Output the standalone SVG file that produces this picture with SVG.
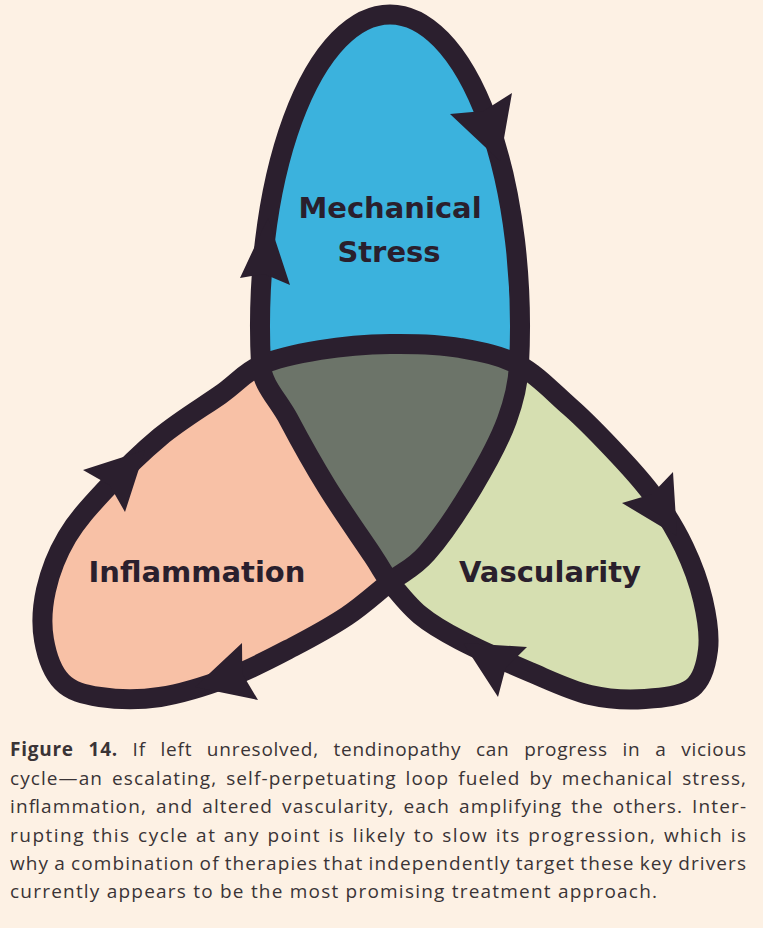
<svg xmlns="http://www.w3.org/2000/svg" width="763" height="928" viewBox="0 0 763 928">
  <style>
    .lbl { font-family: "DejaVu Sans", "Liberation Sans", sans-serif; font-weight: bold; font-size: 29px; fill: #2a1f2d; text-anchor: middle; }
    .loop { fill: none; stroke: #2b1f2e; stroke-width: 20; stroke-linejoin: round; }
    .head { fill: #2b1f2e; }
    .cap { font-family: "Open Sans", Lato, "Liberation Sans", sans-serif; font-size: 19px; fill: #3a3436; }
    .capb { font-weight: bold; }
  </style>
  <rect x="0" y="0" width="763" height="928" fill="#fdf1e4"/>

  <g id="mechanical-stress">
    <path fill="#3bb2dd" d="M261,365 A130 312 0 1 1 519,365 C500.7,355.2 481.2,351.8 460,348 C438.8,344.2 413.3,343.7 390,344 C366.7,344.3 341.2,346.5 320,350 C298.8,353.5 277.7,357.5 261,365 Z"/>
    <text class="lbl" x="390" y="218">Mechanical</text>
    <text class="lbl" x="389" y="262">Stress</text>
  </g>

  <g id="inflammation">
    <path fill="#f8c1a6" d="M390,582 C376.7,592.5 363.2,605.2 347,616 C330.8,626.8 312.5,636.8 293,647 C273.5,657.2 252.2,668.7 230,677 C207.8,685.3 181.7,693.7 160,697 C138.3,700.3 116.3,699.5 100,697 C83.7,694.5 71.3,691.5 62,682 C52.7,672.5 46.7,655.3 44,640 C41.3,624.7 42.2,607.2 46,590 C49.8,572.8 57.3,553.5 67,537 C76.7,520.5 88.5,507.7 104,491 C119.5,474.3 140.7,453 160,437 C179.3,421 202.8,407 220,395 C237.2,383 244.3,372.5 261,365 C262,385 278.3,399.7 289,420 C299.7,440.3 313,464.3 327,487 C341,509.7 362.5,540.2 373,556 C383.5,571.8 382.2,572.2 390,582 Z"/>
    <text class="lbl" x="197" y="582">Inflammation</text>
  </g>

  <g id="vascularity">
    <path fill="#d6dfb1" d="M519,365 C537.3,374.8 552.8,392 570,407 C587.2,422 606,442 620,457 C634,472 643.3,482 654,497 C664.7,512 675.8,529.8 684,547 C692.2,564.2 699,582.8 703,600 C707,617.2 709.8,635.3 708,650 C706.2,664.7 702.5,679.8 692,688 C681.5,696.2 662,697.8 645,699 C628,700.2 609.2,699.5 590,695 C570.8,690.5 551.7,681.2 530,672 C508.3,662.8 478.3,649.5 460,640 C441.7,630.5 431.7,624.7 420,615 C408.3,605.3 397.8,591.8 390,582 C403.3,571.5 413.2,568.8 427,553 C440.8,537.2 459.7,509.2 473,487 C486.3,464.8 499.7,440 507,420 C514.3,400 518,385 519,365 Z"/>
    <text class="lbl" x="550" y="582">Vascularity</text>
  </g>

  <g id="overlap">
    <path fill="#6c7469" d="M261,365 C277.7,357.5 298.8,353.5 320,350 C341.2,346.5 366.7,344.3 390,344 C413.3,343.7 438.8,344.2 460,348 C481.2,351.8 500.7,355.2 519,365 C518,385 514.3,400 507,420 C499.7,440 486.3,464.8 473,487 C459.7,509.2 440.8,537.2 427,553 C413.2,568.8 403.3,571.5 390,582 C382.2,572.2 383.5,571.8 373,556 C362.5,540.2 341,509.7 327,487 C313,464.3 299.7,440.3 289,420 C278.3,399.7 262,385 261,365 Z"/>
  </g>

  <g id="connectors">
    <path class="loop" d="M390,582 C382.2,572.2 383.5,571.8 373,556 C362.5,540.2 341,509.7 327,487 C313,464.3 299.7,440.3 289,420 C278.3,399.7 262,385 261,365 A130 312 0 1 1 519,365 C518,385 514.3,400 507,420 C499.7,440 486.3,464.8 473,487 C459.7,509.2 440.8,537.2 427,553 C413.2,568.8 403.3,571.5 390,582 C376.7,592.5 363.2,605.2 347,616 C330.8,626.8 312.5,636.8 293,647 C273.5,657.2 252.2,668.7 230,677 C207.8,685.3 181.7,693.7 160,697 C138.3,700.3 116.3,699.5 100,697 C83.7,694.5 71.3,691.5 62,682 C52.7,672.5 46.7,655.3 44,640 C41.3,624.7 42.2,607.2 46,590 C49.8,572.8 57.3,553.5 67,537 C76.7,520.5 88.5,507.7 104,491 C119.5,474.3 140.7,453 160,437 C179.3,421 202.8,407 220,395 C237.2,383 244.3,372.5 261,365 C277.7,357.5 298.8,353.5 320,350 C341.2,346.5 366.7,344.3 390,344 C413.3,343.7 438.8,344.2 460,348 C481.2,351.8 500.7,355.2 519,365 C537.3,374.8 552.8,392 570,407 C587.2,422 606,442 620,457 C634,472 643.3,482 654,497 C664.7,512 675.8,529.8 684,547 C692.2,564.2 699,582.8 703,600 C707,617.2 709.8,635.3 708,650 C706.2,664.7 702.5,679.8 692,688 C681.5,696.2 662,697.8 645,699 C628,700.2 609.2,699.5 590,695 C570.8,690.5 551.7,681.2 530,672 C508.3,662.8 478.3,649.5 460,640 C441.7,630.5 431.7,624.7 420,615 C408.3,605.3 397.8,591.8 390,582 Z"/>
    <polygon class="head" points="268,218 290,285 264,274 240,278"/>
    <polygon class="head" points="500,161 450,114 483.5,111 512,93"/>
    <polygon class="head" points="145,450 125,512 109.7,485.3 83,470"/>
    <polygon class="head" points="195,687 242,643 242.3,673.7 258,700"/>
    <polygon class="head" points="677,536 622,503 651.7,494.3 673,472"/>
    <polygon class="head" points="463,643 498,697 505.6,668 527,647"/>
  </g>

  <g id="caption">
    <text class="cap" x="10" y="756" textLength="736" lengthAdjust="spacing" word-spacing="9"><tspan class="capb">Figure 14.</tspan> If left unresolved, tendinopathy can progress in a vicious</text>
    <text class="cap" x="10" y="785" textLength="736" lengthAdjust="spacing" word-spacing="3">cycle—an escalating, self-perpetuating loop fueled by mechanical stress,</text>
    <text class="cap" x="10" y="813" textLength="736" lengthAdjust="spacing" word-spacing="3">inflammation, and altered vascularity, each amplifying the others. Inter-</text>
    <text class="cap" x="10" y="842" textLength="736" lengthAdjust="spacing" word-spacing="1">rupting this cycle at any point is likely to slow its progression, which is</text>
    <text class="cap" x="10" y="870" textLength="736" lengthAdjust="spacing" word-spacing="-1">why a combination of therapies that independently target these key drivers</text>
    <text class="cap" x="10" y="898" textLength="647" lengthAdjust="spacing">currently appears to be the most promising treatment approach.</text>
  </g>
</svg>
